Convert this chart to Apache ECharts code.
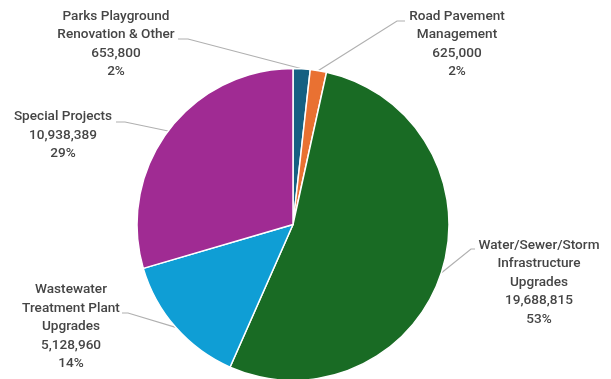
<!DOCTYPE html>
<html>
<head>
<meta charset="utf-8">
<script src="https://cdn.jsdelivr.net/npm/echarts@6/dist/echarts.min.js"></script>
<style>
html,body{margin:0;padding:0;background:#fff;}
#chart{width:611px;height:379px;}
</style>
</head>
<body>
<div id="chart"></div>
<script>
// Data
var categories = [
  "Parks Playground\nRenovation & Other",
  "Road Pavement\nManagement",
  "Water/Sewer/Storm\nInfrastructure\nUpgrades",
  "Wastewater\nTreatment Plant\nUpgrades",
  "Special Projects"
];
var values = [653800, 625000, 19688815, 5128960, 10938389];

// Styles
var colors = ["#156082", "#E97132", "#196B24", "#0F9ED5", "#A02B93"];
// label placement: [centerX, middleY, bendX, bendY, endX, endY]
var labelPlace = [
  [116, 44, 188, 39, 178, 39],
  [457, 44, 397, 21, 405, 21],
  [539, 282.5, 471, 249, 475, 249],
  [71, 327, 128, 313, 122, 313],
  [63, 135.5, 125, 122, 116, 122]
];

var chart = echarts.init(document.getElementById('chart'), null, {renderer: 'canvas'});
var option = {
  backgroundColor: '#ffffff',
  animation: false,
  series: [{
    type: 'pie',
    center: [293, 224.5],
    radius: 156,
    startAngle: 90,
    clockwise: true,
    avoidLabelOverlap: false,
    percentPrecision: 0,
    data: categories.map(function (c, i) {
      return {name: c, value: values[i], itemStyle: {color: colors[i]}};
    }),
    itemStyle: {borderColor: '#ffffff', borderWidth: 1.5},
    label: {
      show: true,
      position: 'outside',
      formatter: function (p) {
        return p.name + '\n' + p.value.toLocaleString('en-US') + '\n' + p.percent + '%';
      },
      fontFamily: 'Roboto',
      fontWeight: 500,
      fontSize: 13.6,
      lineHeight: 18.5,
      color: '#454545',
      align: 'center'
    },
    labelLine: {
      show: true,
      lineStyle: {color: '#b0b0b0', width: 1.2}
    },
    emphasis: {disabled: true},
    labelLayout: function (params) {
      var i = params.dataIndex;
      var lp = labelPlace[i];
      var start = params.labelLinePoints ? params.labelLinePoints[0] : null;
      var res = {
        x: lp[0],
        y: lp[1],
        align: 'center',
        verticalAlign: 'middle'
      };
      if (start) {
        res.labelLinePoints = [start, [lp[2], lp[3]], [lp[4], lp[5]]];
      }
      return res;
    }
  }]
};
chart.setOption(option);
</script>
</body>
</html>
